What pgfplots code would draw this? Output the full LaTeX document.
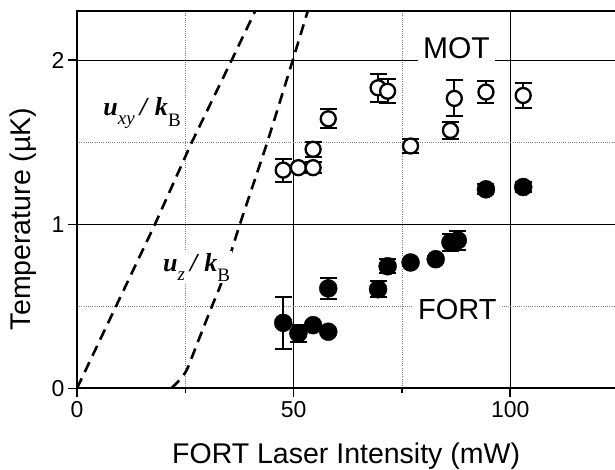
\documentclass[border=0pt]{standalone}
\usepackage{fontspec}
\setmainfont{Liberation Sans}
\newfontfamily\lserif{Liberation Serif}
\usepackage{pgfplots}
\pgfplotsset{compat=1.18}

\newcommand{\sub}[2][-11pt]{\raisebox{#1}{\fontsize{19}{19}\selectfont #2}}
\newcommand{\tickfont}{\fontsize{23}{23}\selectfont}

\begin{document}
\begin{tikzpicture}
\begin{axis}[
    scale only axis,
    width=541.5pt, height=377.3pt,
    xmin=0, xmax=125, ymin=0, ymax=2.3,
    xtick={0,50,100}, minor xtick={25,75},
    ytick={0,1,2}, minor ytick={0.5,1.5},
    xticklabels={0,50,100},
    yticklabels={0,1,2},
    tick pos=left, tick align=outside,
    major tick length=9pt, minor tick length=5pt,
    tick style={black, line width=1.5pt},
    minor y tick style={draw=none},
    grid=both,
    major grid style={black, line width=0.9pt},
    minor grid style={gray, line width=0.6pt, dash pattern=on 1pt off 1.2pt},
    axis line style={line width=1.8pt},
    tick label style={font=\tickfont, inner sep=3.5pt},
    xlabel={FORT Laser Intensity (mW)},
    ylabel={Temperature (µK)},
    label style={font=\fontsize{28.5}{30}\selectfont},
    xlabel style={at={(axis description cs:0.497,-0.198)}, anchor=base},
    ylabel style={at={(axis description cs:-0.1,0.449)}, anchor=center},
]

% dashed curves
\addplot[black, line width=2.6pt, dash pattern=on 11pt off 7pt] coordinates {
    (0,0) (9,0.5) (18,1) (26.5,1.5) (35.7,2) (41.5,2.32)
};
\addplot[black, line width=2.6pt, dash pattern=on 11pt off 7pt, smooth, tension=0.4] coordinates {
    (21.8,0) (23.3,0.04) (25.3,0.11) (28,0.29) (31.1,0.497) (33.4,0.649)
    (37.6,1.0) (43.8,1.49) (49.8,2.0) (53.5,2.32)
};

% MOT (open circles)
\addplot[only marks, mark=*, mark size=7.5pt,
    mark options={fill=white, draw=black, line width=2.3pt},
    error bars/.cd, y dir=both, y explicit,
    error bar style={black, line width=2pt},
    error mark options={rotate=90, mark size=8.5pt, line width=2pt, black}]
coordinates {
    (47.6,1.330) +- (0,0.070)
    (51.1,1.345) +- (0,0)
    (54.5,1.345) +- (0,0.033)
    (54.5,1.457) +- (0,0.045)
    (58.0,1.643) +- (0,0.058)
    (69.5,1.832) +- (0,0.087)
    (71.7,1.811) +- (0,0.073)
    (77.0,1.477) +- (0,0.045)
    (86.2,1.572) +- (0,0.050)
    (87.1,1.767) +- (0,0.110)
    (94.4,1.806) +- (0,0.068)
    (103.0,1.785) +- (0,0.076)
};

% FORT (filled circles)
\addplot[only marks, mark=*, mark size=9pt,
    mark options={fill=black, draw=black},
    error bars/.cd, y dir=both, y explicit,
    error bar style={black, line width=2pt},
    error mark options={rotate=90, mark size=8.5pt, line width=2pt, black}]
coordinates {
    (47.6,0.399) +- (0,0.159)
    (51.1,0.335) +- (0,0.050)
    (54.5,0.385) +- (0,0)
    (58.0,0.345) +- (0,0)
    (58.0,0.609) +- (0,0.064)
    (69.5,0.604) +- (0,0.050)
    (71.7,0.744) +- (0,0.044)
    (77.0,0.767) +- (0,0)
    (82.8,0.787) +- (0,0)
    (86.2,0.890) +- (0,0.050)
    (87.9,0.902) +- (0,0.056)
    (94.4,1.213) +- (0,0.030)
    (103.0,1.227) +- (0,0.030)
};

\node[fill=white, inner xsep=5pt, inner ysep=3pt, anchor=base,
      font=\fontsize{30}{30}\selectfont] at (axis cs:87.6,2.009) {MOT};
\node[fill=white, inner xsep=5pt, inner ysep=3pt, anchor=base,
      font=\fontsize{29}{29}\selectfont] at (axis cs:87.8,0.42) {FORT};
\node[fill=white, inner sep=2pt, anchor=base west,
      font=\lserif\fontsize{26}{26}\selectfont] at (axis cs:5.6,1.664)
    {\bfseries\itshape u\sub[-9pt]{\mdseries xy}\hspace{5pt}/\hspace{8pt}k\sub[-11pt]{\mdseries\upshape B}};
\node[fill=white, inner sep=2pt, anchor=base west,
      font=\lserif\fontsize{26}{26}\selectfont] at (axis cs:19.4,0.715)
    {\bfseries\itshape u\sub[-9pt]{\mdseries z}\hspace{5pt}/\hspace{7pt}k\sub[-10pt]{\mdseries\upshape B}};
\end{axis}
\pgfresetboundingbox
\path (current axis.south west) ++(-77pt,-80.7pt) rectangle ++(615pt,469pt);
\end{tikzpicture}
\end{document}
